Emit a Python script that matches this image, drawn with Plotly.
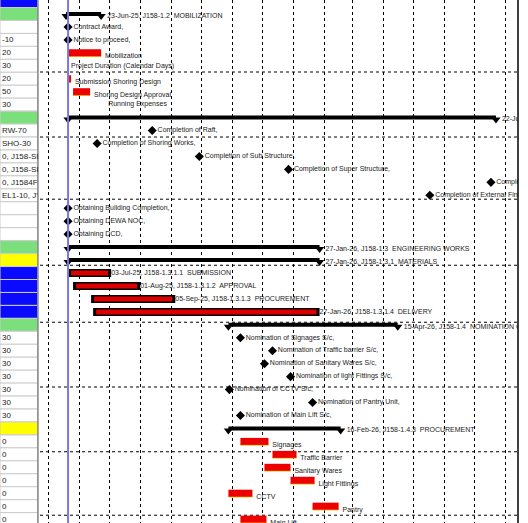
import plotly.graph_objects as go
import pandas as pd

# ---------- data ----------
summary_rows = [0, 8, 18, 19, 24, 32]
summary_start = ["2025-05-19", "2025-05-21", "2025-05-21", "2025-05-21", "2025-10-28", "2025-10-28"]
summary_end = ["2025-06-23", "2026-07-22", "2026-01-27", "2026-01-27", "2026-04-15", "2026-02-17"]
summary_labels = ["23-Jun-25, J158-1.2  MOBILIZATION", "22-Jul-26, J158-1.2  CONSTRUCTION",
                  "27-Jan-26, J158-1.3  ENGINEERING WORKS", "27-Jan-26, J158-1.3.1  MATERIALS",
                  "15-Apr-26, J158-1.4  NOMINATION OF SUBCONTRACTORS", "16-Feb-26, J158-1.4.3  PROCUREMENT"]

sub_rows = [20, 21, 22, 23]
sub_start = ["2025-05-21", "2025-05-26", "2025-06-13", "2025-06-15"]
sub_end = ["2025-07-03", "2025-08-01", "2025-09-05", "2026-01-27"]
sub_labels = ["03-Jul-25, J158-1.3.1.1  SUBMISSION", "01-Aug-25, J158-1.3.1.2  APPROVAL",
              "05-Sep-25, J158-1.3.1.3  PROCUREMENT", "27-Jan-26, J158-1.3.1.4  DELIVERY"]

ms_rows = [1, 2, 9, 10, 11, 12, 13, 14, 15, 16, 17, 25, 26, 27, 28, 29, 30, 31]
ms_dates = ["2025-05-21", "2025-05-21", "2025-08-13", "2025-06-19", "2025-09-29", "2025-12-27",
            "2026-07-17", "2026-05-17", "2025-05-21", "2025-05-21", "2025-05-21",
            "2025-11-09", "2025-12-11", "2025-12-03", "2025-12-29", "2025-10-29", "2026-01-20", "2025-11-09"]
ms_labels = ["Contract Award,", "Notice to proceed,", "Completion of Raft,", "Completion of Shoring Works,",
             "Completion of Sub Structure,", "Completion of Super Structure,", "Completion of Works,",
             "Completion of External Finishes,", "Obtaining Building Completion,", "Obtaining DEWA NOC,",
             "Obtaining DCD,", "Nomination of Signages S/c,", "Nomination of Traffic barrier S/c,",
             "Nomination of Sanitary Wares S/c,", "Nomination of light Fittings S/c,",
             "Nomination of CCTV S/c,", "Nomination of Pantry Unit,", "Nomination of Main Lift S/c,"]

bar_rows = [3, 5, 6, 33, 34, 35, 36, 37, 38, 39]
bar_start = ["2025-05-21", "2025-05-22", "2025-05-26", "2025-11-09", "2025-12-11", "2025-12-03",
             "2025-12-29", "2025-10-28", "2026-01-20", "2025-11-09"]
bar_end = ["2025-06-23", "2025-05-24", "2025-06-12", "2025-12-07", "2026-01-04", "2025-12-29",
           "2026-01-22", "2025-11-21", "2026-02-15", "2025-12-05"]
bar_labels = ["Mobilization", "Submission Shoring Design", "Shoring Design Approval", "Signages",
              "Traffic Barrier", "Sanitary Wares", "Light Fittings", "CCTV", "Pantry", "Main Lift"]

note_rows = [4, 7]
note_dates = ["2025-05-24", "2025-06-30"]
note_labels = ["Project Duration (Calendar Days)", "Running Expenses"]

table_rows = list(range(-1, 41))
table_text = {2: "-10", 3: "20", 4: "30", 5: "20", 6: "50", 7: "30", 9: "RW-70", 10: "SHO-30",
              11: "0, J158-SI", 12: "0, J158-SI", 13: "0, J1584F", 14: "EL1-10, J'",
              25: "30", 26: "30", 27: "30", 28: "30", 29: "30", 30: "30", 31: "30",
              33: "0", 34: "0", 35: "0", 36: "0", 37: "0", 38: "0", 39: "0"}
table_colors = {-1: "#0a0aff", 0: "#7be07b", 8: "#7be07b", 18: "#7be07b", 19: "#ffff00",
                20: "#0a0aff", 21: "#0a0aff", 22: "#0a0aff", 23: "#0a0aff", 24: "#7be07b", 32: "#ffff00"}

hlines = [4.48, 9.5, 14.3, 19.4, 23.8, 28.8, 33.8, 38.7]
data_date = "2025-05-21"

FONT = "Liberation Sans"
fig = go.Figure()
td = pd.Timedelta

for r, s, e, lab in zip(summary_rows, summary_start, summary_end, summary_labels):
    fig.add_trace(go.Scatter(x=[s, e], y=[r, r], mode="lines", line=dict(color="black", width=4),
                             showlegend=False, cliponaxis=True, hoverinfo="skip"))
    fig.add_trace(go.Scatter(x=[s, e], y=[r + 0.15, r + 0.15], mode="markers+text",
                             marker=dict(symbol="triangle-down", size=8, color="black"),
                             text=["", lab], textposition="middle right",
                             textfont=dict(size=7, color="#222"), showlegend=False, cliponaxis=True))

for r, s, e, lab in zip(sub_rows, sub_start, sub_end, sub_labels):
    fig.add_trace(go.Scatter(x=[s, e], y=[r, r], mode="lines", line=dict(color="black", width=8),
                             showlegend=False, cliponaxis=True))
    s2 = (pd.Timestamp(s) + td(days=3)).strftime("%Y-%m-%d")
    e2 = (pd.Timestamp(e) - td(days=3)).strftime("%Y-%m-%d")
    fig.add_trace(go.Scatter(x=[s2, e2], y=[r, r], mode="lines", line=dict(color="#dd0000", width=5),
                             showlegend=False, cliponaxis=True))
    fig.add_trace(go.Scatter(x=[e], y=[r], mode="text", text=[lab], textposition="middle right",
                             textfont=dict(size=7, color="#222"), showlegend=False, cliponaxis=True))

for r, s, e, lab in zip(bar_rows, bar_start, bar_end, bar_labels):
    fig.add_trace(go.Scatter(x=[s, e], y=[r + 0.25, r + 0.25], mode="lines",
                             line=dict(color="#f5c400", width=2), showlegend=False))
    fig.add_trace(go.Scatter(x=[s, e], y=[r, r], mode="lines", line=dict(color="#ee0000", width=7),
                             showlegend=False))
    fig.add_trace(go.Scatter(x=[e], y=[r + 0.3], mode="text", text=["  " + lab],
                             textposition="middle right", textfont=dict(size=7, color="#222"),
                             showlegend=False, cliponaxis=True))

fig.add_trace(go.Scatter(x=ms_dates, y=ms_rows, mode="markers+text",
                         marker=dict(symbol="diamond", size=7, color="black"),
                         text=ms_labels, textposition="middle right",
                         textfont=dict(size=7, color="#222"), showlegend=False, cliponaxis=True))
fig.add_trace(go.Scatter(x=note_dates, y=note_rows, mode="text", text=note_labels,
                         textposition="middle right", textfont=dict(size=7, color="#222"),
                         showlegend=False))

shapes = []
for h in hlines:
    shapes.append(dict(type="line", xref="x domain", x0=0, x1=1, yref="y", y0=h, y1=h,
                       line=dict(color="black", width=1, dash="dot"), layer="below"))
shapes.append(dict(type="line", xref="x", x0=data_date, x1=data_date, yref="paper", y0=0, y1=1,
                   line=dict(color="#7777dd", width=2)))
shapes.append(dict(type="line", xref="x domain", x0=1, x1=1, yref="paper", y0=0, y1=1,
                   line=dict(color="black", width=1.5)))
TX = 40 / 528
annotations = []
for r in table_rows:
    shapes.append(dict(type="rect", xref="paper", x0=0, x1=TX - 0.004, yref="y", y0=r - 0.5, y1=r + 0.5,
                       fillcolor=table_colors.get(r, "white"), line=dict(color="#cccccc", width=1)))
    if r in table_text:
        annotations.append(dict(xref="paper", x=0, yref="y", y=r, text=table_text[r], showarrow=False,
                                xanchor="left", font=dict(size=8, color="#222", family=FONT)))
shapes.append(dict(type="line", xref="paper", x0=TX - 0.004, x1=TX - 0.004, yref="paper", y0=0, y1=1,
                   line=dict(color="#888", width=1.5)))

fig.update_layout(
    width=528, height=523, margin=dict(l=0, r=0, t=0, b=0),
    paper_bgcolor="white", plot_bgcolor="white",
    font=dict(family=FONT, size=7),
    shapes=shapes, annotations=annotations,
    xaxis=dict(type="date", domain=[TX, 518 / 528], range=["2025-04-23", "2026-08-13"],
               showticklabels=False, tick0="2025-05-01", dtick="M1",
               showgrid=True, gridcolor="black", griddash="dot", gridwidth=1, zeroline=False),
    yaxis=dict(range=[39.3, -1.08], showticklabels=False, showgrid=False, zeroline=False),
)
fig.write_html("out.html", config={"displayModeBar": False})
with open("out.html", encoding="utf-8") as f:
    html = f.read()
html = html.replace("<body>", '<body style="margin:0;overflow:hidden">', 1)
with open("out.html", "w", encoding="utf-8") as f:
    f.write(html)
